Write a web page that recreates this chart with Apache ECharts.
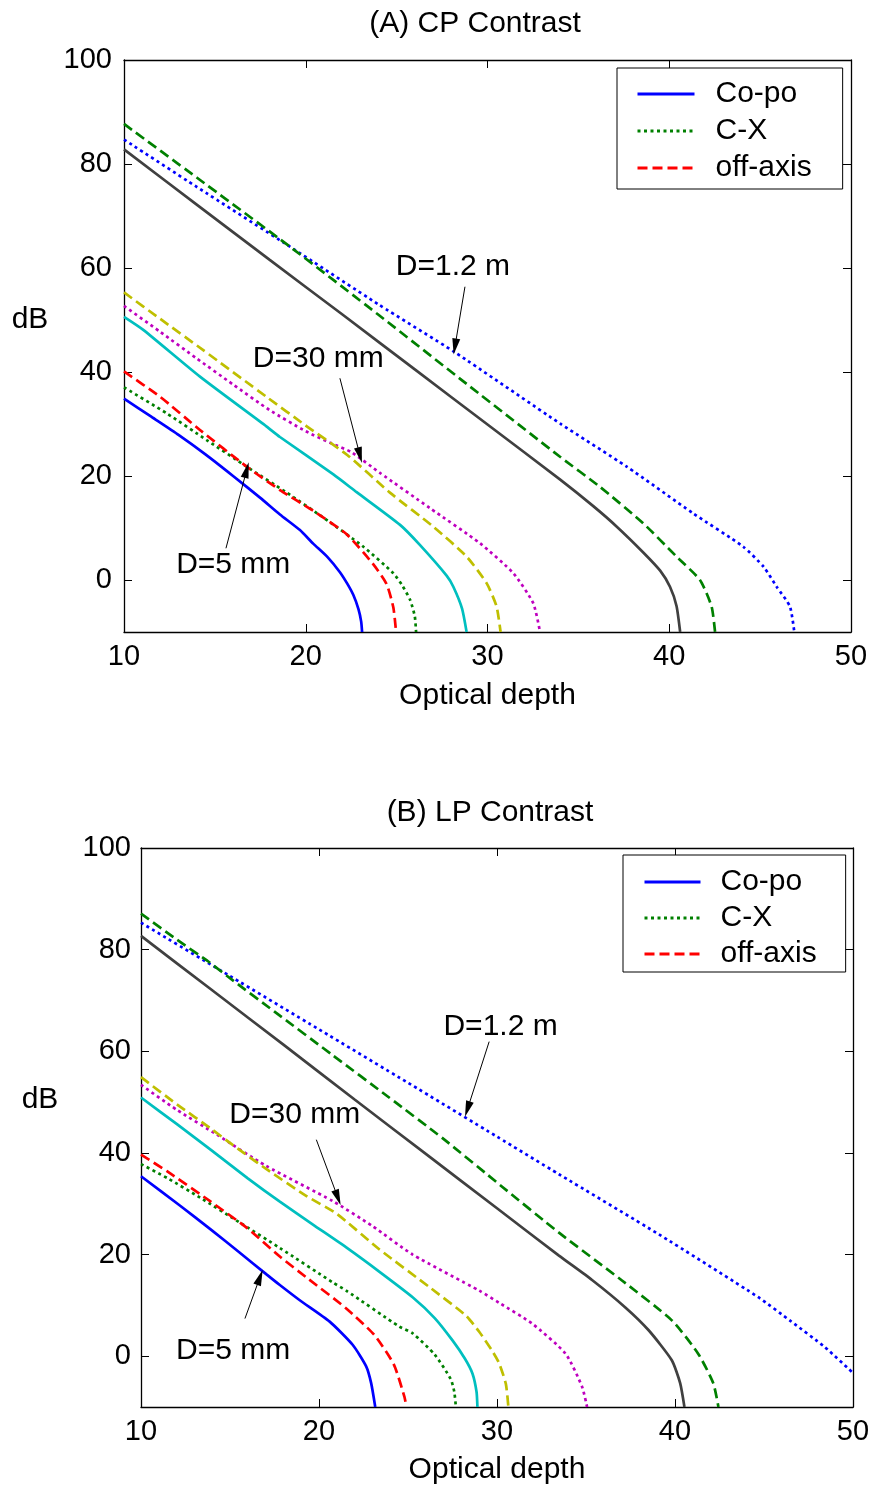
<!DOCTYPE html>
<html>
<head>
<meta charset="utf-8">
<script src="https://cdn.jsdelivr.net/npm/echarts@6/dist/echarts.min.js"></script>
<style>
  html, body { margin: 0; padding: 0; background: #fff; }
  #chart { width: 875px; height: 1488px; }
</style>
</head>
<body>
<div id="chart"></div>
<script>
// --- (A) CP contrast, [optical depth, dB] ---
const cp5Copo = [[10,34.9],[11.5,31.4],[13,27.9],[14.5,24.1],[16,20.0],[17.5,15.8],[18.58,12.6],[19.68,9.6],[20.41,7.0],[21.2,4.4],[21.88,1.5],[22.3,-0.8],[22.62,-2.9],[22.9,-5.6],[23.05,-8],[23.1,-10]]
const cp5Cx = [[10,37.05],[12.35,32.05],[14.55,26.9],[16.75,21.8],[18.95,16.8],[20.97,12.0],[23.17,6.4],[24.82,1.3],[25.3,-1.0],[25.74,-3.8],[26.0,-7],[26.07,-10]]
const cp5Off = [[10,40.1],[11.98,35.25],[14.18,28.85],[16.75,21.8],[18.58,17.3],[20.41,13.3],[22.25,8.8],[23.72,3.0],[24.45,-0.8],[24.82,-5.3],[24.97,-10]]
const cp30Copo = [[10,50.6],[11.06,48.1],[14.18,39.1],[17.85,29.5],[18.58,27.5],[21.52,20.3],[22.8,16.9],[25.19,10.6],[26.29,6.7],[27.76,0.8],[28.12,-1.3],[28.6,-5.5],[28.85,-10]]
const cp30Cx = [[10,52.7],[12,47.7],[14,42.6],[16,37.6],[18,32.7],[20,28.6],[21.33,26.4],[22.5,24.6],[24.08,20.6],[26.84,13.8],[29.59,7.05],[31.42,1.3],[32.52,-4.5],[32.89,-10]]
const cp30Off = [[10,55.3],[12,50.2],[14.36,44.2],[17.85,35.2],[20,29.7],[22.3,24.0],[24.63,16.8],[27.02,10.25],[28.85,4.5],[29.95,-0.6],[30.5,-5.1],[30.72,-10]]
const cp12Copo = [[10,82.8],[14,72.2],[18,61.6],[22,51.1],[26,40.5],[30,29.9],[34,19.3],[35.82,14.2],[37.1,10.3],[38.57,5.3],[39.5,1.8],[40.04,-1.3],[40.4,-5],[40.6,-10]]
const cp12Cx = [[10,84.7],[14,75.6],[19.13,64.1],[24,53.0],[28.2,43.8],[33.99,30.1],[37.66,21.8],[41.32,12.8],[44.07,6.4],[45.2,2.5],[45.91,-1.3],[46.64,-5.1],[46.88,-10]]
const cp12Off = [[10,87.7],[14,77.4],[19.13,64.1],[24,51.0],[29,37.3],[33.99,23.7],[36.19,17.9],[38.57,10.9],[40.4,4.5],[41.69,0],[42.33,-5.1],[42.52,-10]]

// --- (B) LP contrast ---
const lp5Copo = [[10,35.4],[12.2,29.6],[14,24.7],[15.5,20.5],[17.05,16.1],[17.8,14.0],[18.92,11.0],[20.6,6.8],[21.9,2.2],[22.65,-2.0],[22.93,-5.3],[23.16,-10]]
const lp5Cx = [[10,37.8],[11.5,35],[13.32,31.2],[15.5,26.4],[17.8,21.3],[20.78,14.5],[21.53,12.9],[24.52,5.8],[25.26,4.5],[26.5,0.3],[27.4,-4.5],[27.6,-7],[27.69,-10]]
const lp5Off = [[10,39.65],[11.46,36.4],[13.88,30.5],[15.93,25.3],[17.8,19.6],[19.29,15.5],[21.53,9.4],[23.1,4.2],[24.2,-1.6],[24.8,-8.0],[24.91,-10]]
const lp30Copo = [[10,50.9],[12,45.7],[14,40.4],[16,35.0],[17.8,30.4],[19.7,25.8],[21.53,21.4],[23.4,16.6],[25.26,11.6],[26.5,7.5],[27.5,3.1],[28.2,-0.5],[28.62,-3.4],[28.85,-7],[28.9,-10]]
const lp30Cx = [[10,53.4],[12,48.5],[14.26,43.6],[17,37.5],[20.78,30.5],[23,25.6],[25.26,20.0],[29.0,12.9],[30.12,10.5],[31.98,6.4],[33.85,0.5],[34.78,-6.0],[35.06,-10]]
const lp30Off = [[10,54.9],[12,49.6],[14,44.6],[15.18,41.5],[17.05,36.8],[19.3,31.5],[21,28.0],[23.4,21.0],[26.2,13.6],[28.25,8.0],[29.0,4.8],[29.7,1.2],[30.12,-1.4],[30.5,-5.5],[30.64,-10]]
const lp12Copo = [[10,82.7],[14,72.0],[18,61.3],[22,50.5],[26,39.8],[30,29.1],[33.48,19.8],[35.34,15.0],[37.21,9.6],[38.52,5.1],[39.82,-0.8],[40.29,-5.3],[40.53,-10]]
const lp12Cx = [[10,85.3],[15,74.8],[20,64.3],[25,53.8],[30,43.2],[33.48,35.8],[39.08,24.0],[44.68,11.6],[46.5,6.9],[48.41,1.8],[50,-3.3]]
const lp12Off = [[10,87.1],[12,82.0],[13.88,77.4],[15.18,73.9],[17.5,67.8],[20.78,59.2],[23.9,51.0],[26.94,42.9],[30.2,33.6],[33.48,24.3],[37.02,14.9],[39.82,7.05],[41.3,0.5],[42.15,-5.3],[42.44,-10]]

// axes and labels
const xTicks = [10, 20, 30, 40, 50]
const yTicks = [0, 20, 40, 60, 80, 100]
const legendNames = ['Co-po', 'C-X', 'off-axis']
const sizeNames = ['', ' 30 mm', ' 1.2 m']

// annotations (text positions and arrows in data units)
const noteText = ['D=1.2 m', 'D=30 mm', 'D=5 mm']
const cpNoteAt = [[28.1, 60.2], [20.69, 42.6], [16.01, 2.9]]
const cpArrowFrom = [[28.76, 56.4], [21.88, 38.8], [15.61, 6.1]]
const cpArrowTo = [[28.21, 44.9], [22.98, 24.0], [16.75, 21.15]]
const lpNoteAt = [[30.2, 64.8], [18.64, 47.5], [15.18, 1.0]]
const lpArrowFrom = [[29.56, 61.9], [19.85, 42.6], [15.84, 7.4]]
const lpArrowTo = [[28.34, 48.6], [21.06, 31.2], [16.68, 15.5]]

const FONT = '"Liberation Sans", Arial, Helvetica, sans-serif'
const FS = 29
const colors = ['#0000ff', '#008000', '#ff0000', '#00bfbf', '#bf00bf', '#bfbf00', '#404040', '#0000ff', '#008000']
const kinds = ['solid', [3, 3.5], [10, 5]]

const chart = echarts.init(document.getElementById('chart'), null, { renderer: 'canvas' })

const panels = [
  {
    grid: { left: 124, top: 60, width: 727, height: 572 },
    title: '(A) CP Contrast', titleX: 475, titleTop: 9,
    yName: { x: 30, top: 305 },
    curves: [cp5Copo, cp5Cx, cp5Off, cp30Copo, cp30Cx, cp30Off, cp12Copo, cp12Cx, cp12Off],
    noteAt: cpNoteAt, arrowFrom: cpArrowFrom, arrowTo: cpArrowTo,
    legend: { left: 617, top: 68, itemWidth: 57, itemGap: 7, padding: [11, 31, 6, 19], textPad: 16 },
    labelMargin: 10, nameGap: 49, yMargin: 12
  },
  {
    grid: { left: 141, top: 848, width: 712, height: 559 },
    title: '(B) LP Contrast', titleX: 490, titleTop: 798,
    yName: { x: 40, top: 1085 },
    curves: [lp5Copo, lp5Cx, lp5Off, lp30Copo, lp30Cx, lp30Off, lp12Copo, lp12Cx, lp12Off],
    noteAt: lpNoteAt, arrowFrom: lpArrowFrom, arrowTo: lpArrowTo,
    legend: { left: 623, top: 855, itemWidth: 56, itemGap: 6, padding: [12, 29, 3, 20], textPad: 15 },
    labelMargin: 10, nameGap: 48, yMargin: 10
  }
]

const axisLine = { show: true, onZero: false, lineStyle: { color: '#000', width: 1.3 } }
const axisTick = { show: true, inside: true, length: 8, lineStyle: { color: '#000', width: 1 } }
const labelStyle = { color: '#000', fontSize: FS, fontFamily: FONT }
const bigStyle = { color: '#000', fontSize: 30, fontFamily: FONT, fontWeight: 'normal' }

const option = {
  animation: false,
  backgroundColor: '#fff',
  title: [],
  legend: [],
  grid: [],
  xAxis: [],
  yAxis: [],
  series: []
}

panels.forEach((p, gi) => {
  option.grid.push(p.grid)
  option.title.push({
    text: p.title, left: p.titleX, top: p.titleTop, textAlign: 'center', padding: 0,
    textStyle: bigStyle
  })
  option.title.push({
    text: 'dB', left: p.yName.x, top: p.yName.top, textAlign: 'center', padding: 0,
    textStyle: bigStyle
  })
  option.legend.push({
    data: legendNames, left: p.legend.left, top: p.legend.top, orient: 'vertical',
    itemWidth: p.legend.itemWidth, itemHeight: 14, itemGap: p.legend.itemGap,
    padding: p.legend.padding, borderColor: '#000', borderWidth: 1, backgroundColor: '#fff',
    selectedMode: false,
    itemStyle: { color: 'rgba(0,0,0,0)', borderWidth: 0, opacity: 0 },
    lineStyle: { width: 3 },
    textStyle: { ...bigStyle, lineHeight: 30, padding: [0, 0, 0, p.legend.textPad] }
  })

  const xBase = {
    type: 'value', gridIndex: gi, min: 10, max: 50, interval: 10,
    splitLine: { show: false }, axisLine, axisTick
  }
  option.xAxis.push({
    ...xBase, position: 'bottom',
    axisLabel: { ...labelStyle, margin: p.labelMargin },
    name: 'Optical depth', nameLocation: 'middle', nameGap: p.nameGap, nameTextStyle: bigStyle
  })
  option.xAxis.push({ ...xBase, position: 'top', axisLabel: { show: false } })

  const yBase = {
    type: 'value', gridIndex: gi, min: -10, max: 100,
    splitLine: { show: false }, axisLine,
    axisTick: { ...axisTick, customValues: yTicks }
  }
  option.yAxis.push({
    ...yBase, position: 'left',
    axisLabel: { ...labelStyle, margin: p.yMargin, customValues: yTicks }
  })
  option.yAxis.push({ ...yBase, position: 'right', axisLabel: { show: false } })

  p.curves.forEach((data, ci) => {
    const s = {
      name: legendNames[ci % 3] + sizeNames[Math.floor(ci / 3)],
      type: 'line', xAxisIndex: gi * 2, yAxisIndex: gi * 2,
      data, symbol: 'none', showSymbol: false,
      smooth: 0.2, clip: true, silent: true,
      lineStyle: { color: colors[ci], width: 2.7, type: kinds[ci % 3] },
      itemStyle: { color: colors[ci] },
      emphasis: { disabled: true }
    }
    if (ci === 6) {
      s.markPoint = {
        silent: true, symbol: 'rect', symbolSize: 1,
        itemStyle: { color: 'rgba(0,0,0,0)' },
        label: { show: true, position: 'inside', ...bigStyle, formatter: (d) => d.name },
        data: noteText.map((t, i) => ({ name: t, coord: p.noteAt[i] }))
      }
      s.markLine = {
        silent: true, symbol: ['none', 'triangle'], symbolSize: 12,
        lineStyle: { color: '#000', width: 1, type: 'solid' },
        itemStyle: { color: '#000' },
        label: { show: false }, emphasis: { disabled: true },
        data: p.arrowFrom.map((f, i) => [
          { coord: f },
          { coord: p.arrowTo[i], symbolSize: [8, 16] }
        ])
      }
    }
    option.series.push(s)
  })
})

chart.setOption(option)
</script>
</body>
</html>
